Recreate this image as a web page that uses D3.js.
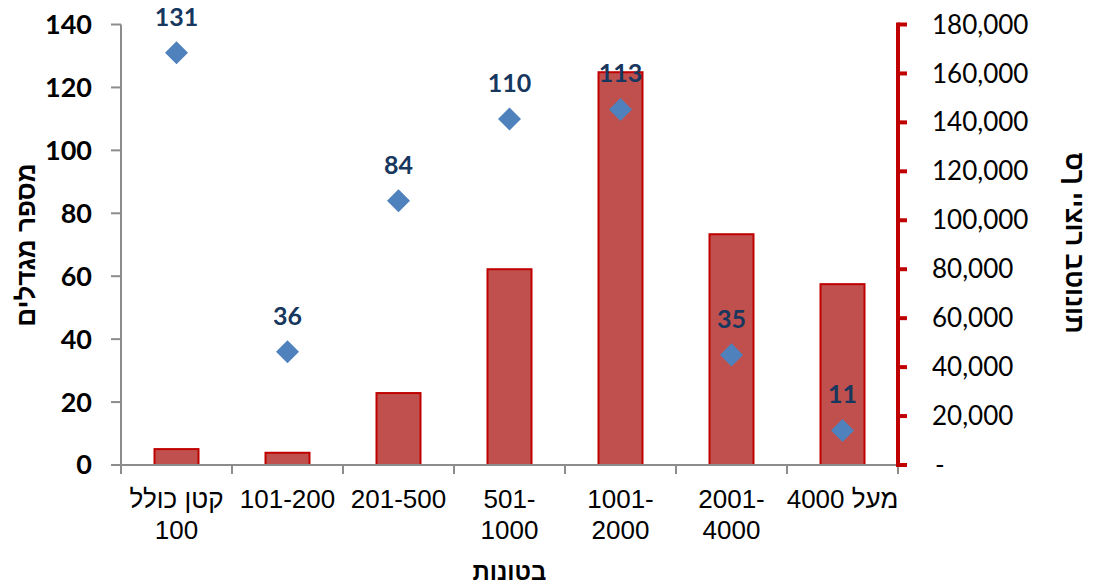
<!DOCTYPE html>
<html><head><meta charset="utf-8">
<script src="https://cdn.jsdelivr.net/npm/d3@7"></script>
<style>body{margin:0;background:#fff}svg{display:block}</style>
</head><body>
<script>
const categories = [["קטן כולל","100"],["101-200"],["201-500"],["501-","1000"],["1001-","2000"],["2001-","4000"],["מעל 4000"]];
const towers = [131, 36, 84, 110, 113, 35, 11];
const tons = [6500, 5000, 29400, 80000, 160500, 94300, 73900];
const leftTicks = [0,20,40,60,80,100,120,140];
const rightTicks = [0,20000,40000,60000,80000,100000,120000,140000,160000,180000];
const leftTitle = "מספר מגדלים";
const rightTitle = "סך ייצור בטונות";
const xTitle = "בטונות";

const W=1101,H=587, x0=121, x1=898, yTop=24.5, yBot=465;
const svg=d3.select("body").append("svg").attr("width",W).attr("height",H);
const idx=d3.range(categories.length);
const x=d3.scaleBand().domain(idx).range([x0,x1]).paddingInner(0).paddingOuter(0);
const yL=d3.scaleLinear().domain([0,140]).range([yBot,yTop]);
const yR=d3.scaleLinear().domain([0,180000]).range([yBot,yTop]);
const bw=45;
const heb=/[\u0590-\u05FF]/;

// bars
svg.append("g").selectAll("rect").data(idx).join("rect")
  .attr("x",i=>x(i)+x.bandwidth()/2-bw/2+0.5)
  .attr("y",i=>yR(tons[i]))
  .attr("width",bw-1)
  .attr("height",i=>yBot-yR(tons[i]))
  .attr("fill","#C0504D").attr("stroke","#C00000").attr("stroke-width",2);

// x axis
const gx=svg.append("g");
gx.append("line").attr("x1",x0).attr("x2",x1).attr("y1",yBot).attr("y2",yBot).attr("stroke","#8c8c8c").attr("stroke-width",2);
gx.selectAll("line.t").data(d3.range(categories.length+1)).join("line").attr("class","t")
  .attr("x1",i=>x0+i*x.bandwidth()).attr("x2",i=>x0+i*x.bandwidth())
  .attr("y1",yBot).attr("y2",yBot+9).attr("stroke","#8c8c8c").attr("stroke-width",2);
const lab=gx.selectAll("text").data(idx).join("text")
  .attr("font-family","Liberation Sans, Arial, sans-serif").attr("font-size",26).attr("fill","#000")
  .attr("text-anchor","middle");
lab.each(function(i){
  const t=d3.select(this);
  categories[i].forEach((s,k)=>t.append("tspan").attr("x",x(i)+x.bandwidth()/2).attr("y",508+k*31)
    .attr("direction",heb.test(s)?"rtl":"ltr").text(s));
});
svg.append("text").attr("x",(x0+x1)/2).attr("y",580).attr("text-anchor","middle")
  .attr("font-family","Liberation Sans, Arial, sans-serif").attr("font-weight","bold").attr("font-size",24).text(xTitle);

// left axis
const gl=svg.append("g");
gl.append("line").attr("x1",x0).attr("x2",x0).attr("y1",yTop).attr("y2",yBot+9).attr("stroke","#8c8c8c").attr("stroke-width",2);
gl.selectAll("line.t").data(leftTicks).join("line").attr("class","t")
  .attr("x1",x0-10).attr("x2",x0).attr("y1",d=>yL(d)).attr("y2",d=>yL(d)).attr("stroke","#8c8c8c").attr("stroke-width",2);
gl.selectAll("text").data(leftTicks).join("text").attr("x",92).attr("y",d=>yL(d)).attr("dy","0.35em")
  .attr("text-anchor","end").attr("font-family","Lato, sans-serif").attr("font-weight","bold").attr("font-size",27).text(d=>d);
svg.append("text").attr("transform","translate(35,245) rotate(-90)").attr("text-anchor","middle")
  .attr("font-family","Liberation Sans, Arial, sans-serif").attr("font-weight","bold").attr("font-size",26).text(leftTitle);

// right axis
const gr=svg.append("g");
gr.append("line").attr("x1",x1).attr("x2",x1).attr("y1",yTop-2).attr("y2",yBot+2).attr("stroke","#C00000").attr("stroke-width",4);
gr.selectAll("line.t").data(rightTicks).join("line").attr("class","t")
  .attr("x1",x1).attr("x2",x1+9).attr("y1",d=>yR(d)).attr("y2",d=>yR(d)).attr("stroke","#C00000").attr("stroke-width",4);
gr.selectAll("text").data(rightTicks).join("text").attr("x",d=>d===0?935:932).attr("y",d=>yR(d)).attr("dy","0.35em")
  .attr("font-family","Lato, sans-serif").attr("font-size",26).text(d=>d===0?"-":d3.format(",")(d));
svg.append("text").attr("transform","translate(1066,243) rotate(90)").attr("text-anchor","middle")
  .attr("direction","ltr").attr("unicode-bidi","bidi-override")
  .attr("font-family","Liberation Sans, Arial, sans-serif").attr("font-weight","bold").attr("font-size",26).text(rightTitle);

// diamonds
const sym=d3.symbol().type(d3.symbolSquare).size(265);
svg.append("g").selectAll("path").data(idx).join("path")
  .attr("d",sym).attr("transform",i=>`translate(${x(i)+x.bandwidth()/2},${yL(towers[i])}) rotate(45)`)
  .attr("fill","#4F81BD");
svg.append("g").selectAll("text").data(idx).join("text")
  .attr("x",i=>x(i)+x.bandwidth()/2).attr("y",i=>yL(towers[i])-27)
  .attr("text-anchor","middle").attr("font-family","Lato, sans-serif").attr("font-weight","bold").attr("font-size",25)
  .attr("fill","#17375E").text(i=>towers[i]);
</script>
</body></html>
